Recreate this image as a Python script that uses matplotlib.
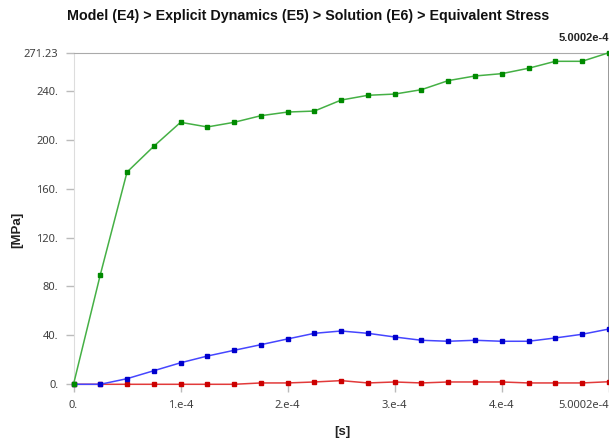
import matplotlib.pyplot as plt

# time points [s]
times = [0.0, 2.5e-5, 5.0e-5, 7.5e-5, 1.0e-4, 1.25e-4, 1.5e-4, 1.75e-4, 2.0e-4,
         2.25e-4, 2.5e-4, 2.75e-4, 3.0e-4, 3.25e-4, 3.5e-4, 3.75e-4, 4.0e-4,
         4.25e-4, 4.5e-4, 4.75e-4, 5.0002e-4]

# equivalent stress [MPa]
stress_max = [0.0, 89.5, 173.6, 194.7, 214.3, 210.5, 214.3, 219.7, 222.7, 223.5,
              232.5, 236.4, 237.4, 241.0, 248.4, 252.2, 254.1, 258.5, 264.2,
              264.2, 271.23]
stress_avg = [0.0, 0.0, 4.6, 11.1, 17.6, 23.1, 27.8, 32.4, 37.1, 41.7,
              43.6, 41.7, 38.7, 36.0, 35.2, 36.0, 35.2, 35.2, 37.9, 40.9, 45.2]
stress_min = [0.0, 0.0, 0.0, 0.0, 0.0, 0.0, 0.0, 1.1, 1.1, 1.9,
              3.0, 1.1, 1.9, 1.1, 1.9, 1.9, 1.9, 1.1, 1.1, 1.1, 2.1]

yticks = [0, 40, 80, 120, 160, 200, 240, 271.23]
ytick_labels = ["0.", "40.", "80.", "120.", "160.", "200.", "240.", "271.23"]
xticks = [0, 1e-4, 2e-4, 3e-4, 4e-4, 5.0002e-4]
xtick_labels = ["0.", "1.e-4", "2.e-4", "3.e-4", "4.e-4", "5.0002e-4"]

plt.rcParams['font.family'] = ['Noto Sans', 'DejaVu Sans']

fig = plt.figure(figsize=(6.09, 4.40), dpi=100)
ax = fig.add_axes([0.1207, 0.1266, 0.879, 0.7536])

series = [
    (stress_min, '#e23a3a', '#cc0000'),
    (stress_avg, '#4646ff', '#0000cc'),
    (stress_max, '#45b045', '#008a00'),
]
for vals, lc, mc in series:
    ax.plot(times, vals, color=lc, lw=1.1, marker='s', markersize=2.2,
            markerfacecolor=mc, markeredgecolor=mc, clip_on=False, zorder=3)

ax.set_xlim(0, 5.0002e-4)
ax.set_ylim(0, 271.23)
ax.set_yticks(yticks)
ax.set_yticklabels(ytick_labels)
ax.set_xticks(xticks)
ax.set_xticklabels(xtick_labels)
ax.tick_params(axis='both', colors='#bbbbbb', labelcolor='#404040',
               labelsize=8, length=6, width=1, pad=5)
ax.get_xticklabels()[-1].set_horizontalalignment('right')

ax.spines['bottom'].set_visible(False)
ax.spines['left'].set_color('#dddddd')
ax.spines['top'].set_color('#aaaaaa')
ax.spines['right'].set_color('#888888')
ax.spines['right'].set_linewidth(1.2)

fig.text(0.029, 0.477, "[MPa]", rotation=90, ha='center', va='center',
         fontsize=9.5, fontweight='bold', family='Liberation Sans', color='#222222')
fig.text(0.563, 0.018, "[s]", ha='center', va='center',
         fontsize=9.5, fontweight='bold', family='Liberation Sans', color='#222222')

ax.text(1.0, 1.028, "5.0002e-4", transform=ax.transAxes, ha='right', va='bottom',
        fontsize=8, fontweight='bold', family='Liberation Sans', color='#222222')

fig.text(0.506, 0.963, "Model (E4) > Explicit Dynamics (E5) > Solution (E6) > Equivalent Stress",
         ha='center', va='center', fontsize=10.3, fontweight='bold',
         family='Liberation Sans', color='#111111')

fig.savefig("out.png", dpi=100)
